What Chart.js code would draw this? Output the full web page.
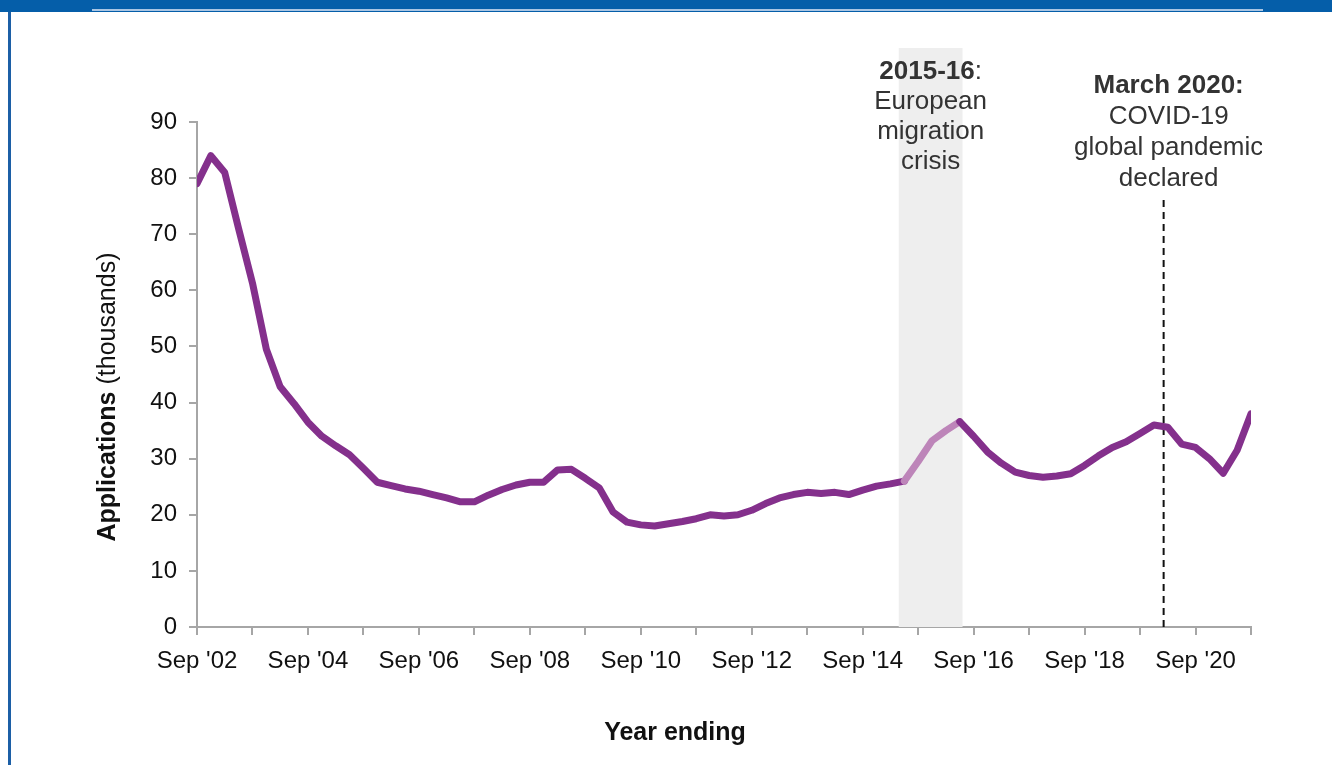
<!DOCTYPE html>
<html>
<head>
<meta charset="utf-8">
<script src="https://cdn.jsdelivr.net/npm/chart.js@4.4.1/dist/chart.umd.min.js"></script>
<style>
  body { margin: 0; background: #fff; }
  #wrap { position: relative; width: 1332px; height: 765px; overflow: hidden; }
  #band { position: absolute; left: 0; top: 0; width: 1332px; height: 12px; background: #055ea9; }
  #bandLine { position: absolute; left: 92px; top: 9px; width: 1171px; height: 2px; background: #a9c5e3; }
  #leftEdge { position: absolute; left: 8px; top: 12px; width: 3px; height: 753px; background: #1c5fa6; }
  canvas { position: absolute; left: 0; top: 0; }
</style>
</head>
<body>
<div id="wrap">
  <canvas id="chart" width="1332" height="765"></canvas>
  <div id="band"></div>
  <div id="bandLine"></div>
  <div id="leftEdge"></div>
</div>
<script>
// Asylum applications, quarterly year ending, Sep 2002 - Sep 2021 (thousands)
const quarterIndex = [
  0, 1, 2, 3, 4, 5, 6, 7, 8, 9, 10, 11, 12, 13, 14, 15, 16, 17, 18, 19,
  20, 21, 22, 23, 24, 25, 26, 27, 28, 29, 30, 31, 32, 33, 34, 35, 36, 37, 38, 39,
  40, 41, 42, 43, 44, 45, 46, 47, 48, 49, 50, 51, 52, 53, 54, 55, 56, 57, 58, 59,
  60, 61, 62, 63, 64, 65, 66, 67, 68, 69, 70, 71, 72, 73, 74, 75, 76
];
const applications = [
  79, 84, 81, 71, 61.3, 49.5, 42.8, 39.8, 36.5, 34,
  32.3, 30.7, 28.3, 25.8, 25.2, 24.6, 24.2, 23.6, 23.0, 22.3,
  22.3, 23.5, 24.5, 25.3, 25.8, 25.8, 28, 28.1, 26.5, 24.8,
  20.5, 18.7, 18.2, 18.0, 18.4, 18.8, 19.3, 20.0, 19.8, 20.0,
  20.8, 22, 23, 23.6, 24, 23.8, 24, 23.6, 24.4, 25.1,
  25.5, 26, 29.5, 33.2, 35, 36.6, 34, 31.2, 29.2, 27.6,
  27, 26.7, 26.9, 27.3, 28.8, 30.5, 32, 33, 34.5, 36,
  35.6, 32.6, 32, 30, 27.4, 31.5, 38
];
const xTickLabels = ["Sep '02", "Sep '04", "Sep '06", "Sep '08", "Sep '10",
  "Sep '12", "Sep '14", "Sep '16", "Sep '18", "Sep '20"];
const yTicks = [0, 10, 20, 30, 40, 50, 60, 70, 80, 90];

// annotation positions (in quarter index units)
const crisisStart = 50.6, crisisEnd = 55.2;
const covidAt = 69.7;

const FONT = "'Liberation Sans', Arial, sans-serif";
const PURPLE = "#84308c";
const PURPLE_LIGHT = "#bd85b9";

const annotations = {
  id: "annotations",
  beforeDatasetsDraw(chart) {
    const { ctx, scales: { x, y } } = chart;
    ctx.save();
    // shaded crisis band
    const x0 = x.getPixelForValue(crisisStart), x1 = x.getPixelForValue(crisisEnd);
    ctx.fillStyle = "#eeeeee";
    ctx.fillRect(x0, 48, x1 - x0, y.getPixelForValue(0) - 48);
    // covid dashed line
    const cx = x.getPixelForValue(covidAt);
    ctx.strokeStyle = "#111";
    ctx.lineWidth = 2;
    ctx.setLineDash([7, 5]);
    ctx.beginPath();
    ctx.moveTo(cx, 200);
    ctx.lineTo(cx, y.getPixelForValue(0));
    ctx.stroke();
    ctx.restore();
  },
  afterDraw(chart) {
    const { ctx, scales: { x } } = chart;
    ctx.save();
    ctx.textBaseline = "middle";
    ctx.fillStyle = "#333";

    // 2015-16 label
    const mx = (x.getPixelForValue(crisisStart) + x.getPixelForValue(crisisEnd)) / 2;
    ctx.font = "bold 26px " + FONT;
    const bw = ctx.measureText("2015-16").width;
    ctx.font = "26px " + FONT;
    const cw = ctx.measureText(":").width;
    let sx = mx - (bw + cw) / 2;
    ctx.textAlign = "left";
    ctx.font = "bold 26px " + FONT;
    ctx.fillText("2015-16", sx, 72);
    ctx.font = "26px " + FONT;
    ctx.fillText(":", sx + bw, 72);
    ctx.textAlign = "center";
    ["European", "migration", "crisis"].forEach((t, i) => ctx.fillText(t, mx, 102 + i * 30));

    // March 2020 label, clipped at the right edge
    ctx.beginPath();
    ctx.rect(0, 0, 1262, 765);
    ctx.clip();
    const cx = x.getPixelForValue(covidAt) + 5;
    ctx.font = "bold 26px " + FONT;
    ctx.fillText("March 2020:", cx, 86);
    ctx.font = "26px " + FONT;
    ["COVID-19", "global pandemic", "declared"].forEach((t, i) => ctx.fillText(t, cx, 117 + i * 31));
    ctx.restore();

    // axis titles
    ctx.save();
    ctx.fillStyle = "#111";
    ctx.textBaseline = "middle";
    ctx.textAlign = "center";
    ctx.font = "bold 25px " + FONT;
    ctx.fillText("Year ending", 675, 733);
    ctx.translate(108, 397);
    ctx.rotate(-Math.PI / 2);
    const a = "Applications", b = " (thousands)";
    const aw = ctx.measureText(a).width;
    ctx.font = "25px " + FONT;
    const bw2 = ctx.measureText(b).width;
    ctx.textAlign = "left";
    ctx.font = "bold 25px " + FONT;
    ctx.fillText(a, -(aw + bw2) / 2, 0);
    ctx.font = "25px " + FONT;
    ctx.fillText(b, -(aw + bw2) / 2 + aw, 0);
    ctx.restore();
  }
};

new Chart(document.getElementById("chart"), {
  type: "line",
  data: {
    datasets: [{
      data: quarterIndex.map((q, i) => ({ x: q, y: applications[i] })),
      borderColor: PURPLE,
      borderWidth: 7,
      borderJoinStyle: "round",
      borderCapStyle: "round",
      pointRadius: 0,
      tension: 0,
      segment: {
        borderColor: (c) => (c.p0.parsed.x >= 51 && c.p1.parsed.x <= 55) ? PURPLE_LIGHT : PURPLE,
      },
    }],
  },
  options: {
    responsive: false,
    animation: false,
    layout: { padding: { left: 0, top: 122, right: 81, bottom: 0 } },
    plugins: { legend: { display: false }, tooltip: { enabled: false } },
    scales: {
      x: {
        type: "linear",
        min: 0,
        max: 76,
        afterFit: (s) => { s.height = 138; },
        afterBuildTicks: (s) => { s.ticks = quarterIndex.filter((q) => q % 4 === 0).map((v) => ({ value: v })); },
        ticks: {
          autoSkip: false,
          maxRotation: 0,
          padding: 12,
          color: "#111",
          font: { family: FONT, size: 24 },
          callback: (v) => (v % 8 === 0 ? xTickLabels[v / 8] : ""),
        },
        grid: { drawOnChartArea: false, color: "#a6a6a6", lineWidth: 2, tickLength: 8 },
        border: { color: "#a6a6a6", width: 2 },
      },
      y: {
        min: 0,
        max: 90,
        afterFit: (s) => { s.width = 197; },
        afterBuildTicks: (s) => { s.ticks = yTicks.map((v) => ({ value: v })); },
        ticks: {
          padding: 12,
          color: "#111",
          font: { family: FONT, size: 24 },
        },
        grid: { drawOnChartArea: false, color: "#a6a6a6", lineWidth: 2, tickLength: 8 },
        border: { color: "#a6a6a6", width: 2 },
      },
    },
  },
  plugins: [annotations],
});
</script>
</body>
</html>
